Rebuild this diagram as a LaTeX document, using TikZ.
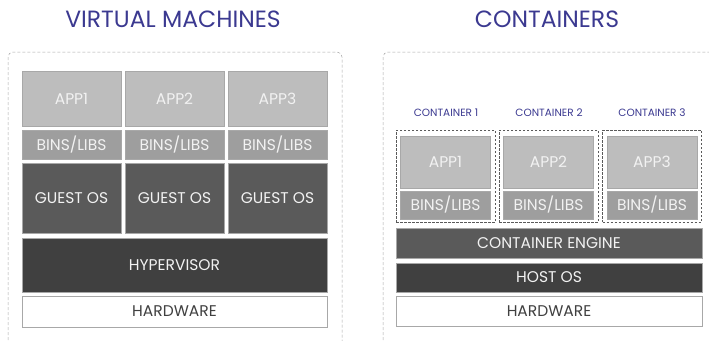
\documentclass[tikz,border=0pt]{standalone}
\usepackage{fontspec}
\setmainfont{Poppins}

\definecolor{titleblue}{HTML}{3B3990}
\definecolor{appgray}{HTML}{BDBDBD}
\definecolor{binsgray}{HTML}{9E9E9E}
\definecolor{osgray}{HTML}{5A5A5A}
\definecolor{hypgray}{HTML}{404040}
\definecolor{edgegray}{HTML}{A8A8A8}
\definecolor{labelwhite}{HTML}{F2F2F2}

\begin{document}
\begin{tikzpicture}[x=1pt,y=-1pt]
        \tikzstyle{every node}=[font=\fontsize{15.5}{18}\selectfont, inner sep=0pt, text=labelwhite]
        \tikzstyle{layer}=[draw=edgegray, line width=0.8pt, minimum height=#1]
        \tikzstyle{title}=[font=\fontsize{23.5}{28}\selectfont, text=titleblue]
        \tikzstyle{frame}=[draw=gray!70, densely dashed, line width=0.5pt, rounded corners=5pt]
        \tikzstyle{cbox}=[draw=osgray, dash pattern=on 2.5pt off 1.5pt, line width=1pt, minimum width=99, minimum height=92]

        \useasboundingbox (0,0) rectangle (709,340);

        % virtual machines
        \node[title] (vmtitle) at (173,19) {VIRTUAL MACHINES};
        \draw[frame] (8,350) -- (8,52) -- (342,52) -- (342,350);

        \node[layer=55, fill=appgray, minimum width=99] (app1) at (71.5,98.5) {APP1};
        \node[layer=55, fill=appgray, minimum width=99] (app2) at (174.5,98.5) {APP2};
        \node[layer=55, fill=appgray, minimum width=99] (app3) at (277.5,98.5) {APP3};
        \node[layer=29, fill=binsgray, minimum width=99] (bins1) at (71.5,144.5) {BINS/LIBS};
        \node[layer=29, fill=binsgray, minimum width=99] (bins2) at (174.5,144.5) {BINS/LIBS};
        \node[layer=29, fill=binsgray, minimum width=99] (bins3) at (277.5,144.5) {BINS/LIBS};
        \node[layer=70, fill=osgray, minimum width=99] (guest1) at (71.5,198.5) {GUEST OS};
        \node[layer=70, fill=osgray, minimum width=99] (guest2) at (174.5,198.5) {GUEST OS};
        \node[layer=70, fill=osgray, minimum width=99] (guest3) at (277.5,198.5) {GUEST OS};
        \node[layer=54, fill=hypgray, minimum width=305] (hyper) at (174.5,265) {HYPERVISOR};
        \node[layer=31, fill=white, text=hypgray, minimum width=305] (vmhw) at (174.5,311.5) {HARDWARE};

        % containers
        \node[title] (cttitle) at (547,19) {CONTAINERS};
        \draw[frame] (383,350) -- (383,52) -- (720,52);

        \node[font=\fontsize{10.5}{12}\selectfont, text=titleblue] (clabel1) at (446,113) {CONTAINER 1};
        \node[font=\fontsize{10.5}{12}\selectfont, text=titleblue] (clabel2) at (549,113) {CONTAINER 2};
        \node[font=\fontsize{10.5}{12}\selectfont, text=titleblue] (clabel3) at (652,113) {CONTAINER 3};

        \node[cbox] (cont1) at (445.5,176) {};
        \node[cbox] (cont2) at (548.5,176) {};
        \node[cbox] (cont3) at (652,176) {};

        \node[layer=52, fill=appgray, minimum width=90] (capp1) at (445.5,162) {APP1};
        \node[layer=52, fill=appgray, minimum width=90] (capp2) at (548.5,162) {APP2};
        \node[layer=52, fill=appgray, minimum width=90] (capp3) at (652,162) {APP3};
        \node[layer=28, fill=binsgray, minimum width=90] (cbins1) at (445.5,205) {BINS/LIBS};
        \node[layer=28, fill=binsgray, minimum width=90] (cbins2) at (548.5,205) {BINS/LIBS};
        \node[layer=28, fill=binsgray, minimum width=90] (cbins3) at (652,205) {BINS/LIBS};

        \node[layer=30, fill=osgray, minimum width=306] (engine) at (549,243) {CONTAINER ENGINE};
        \node[layer=29, fill=hypgray, minimum width=306] (hostos) at (549,277.5) {HOST OS};
        \node[layer=30, fill=white, text=hypgray, minimum width=306] (cthw) at (549,311) {HARDWARE};

    \end{tikzpicture}
\end{document}
